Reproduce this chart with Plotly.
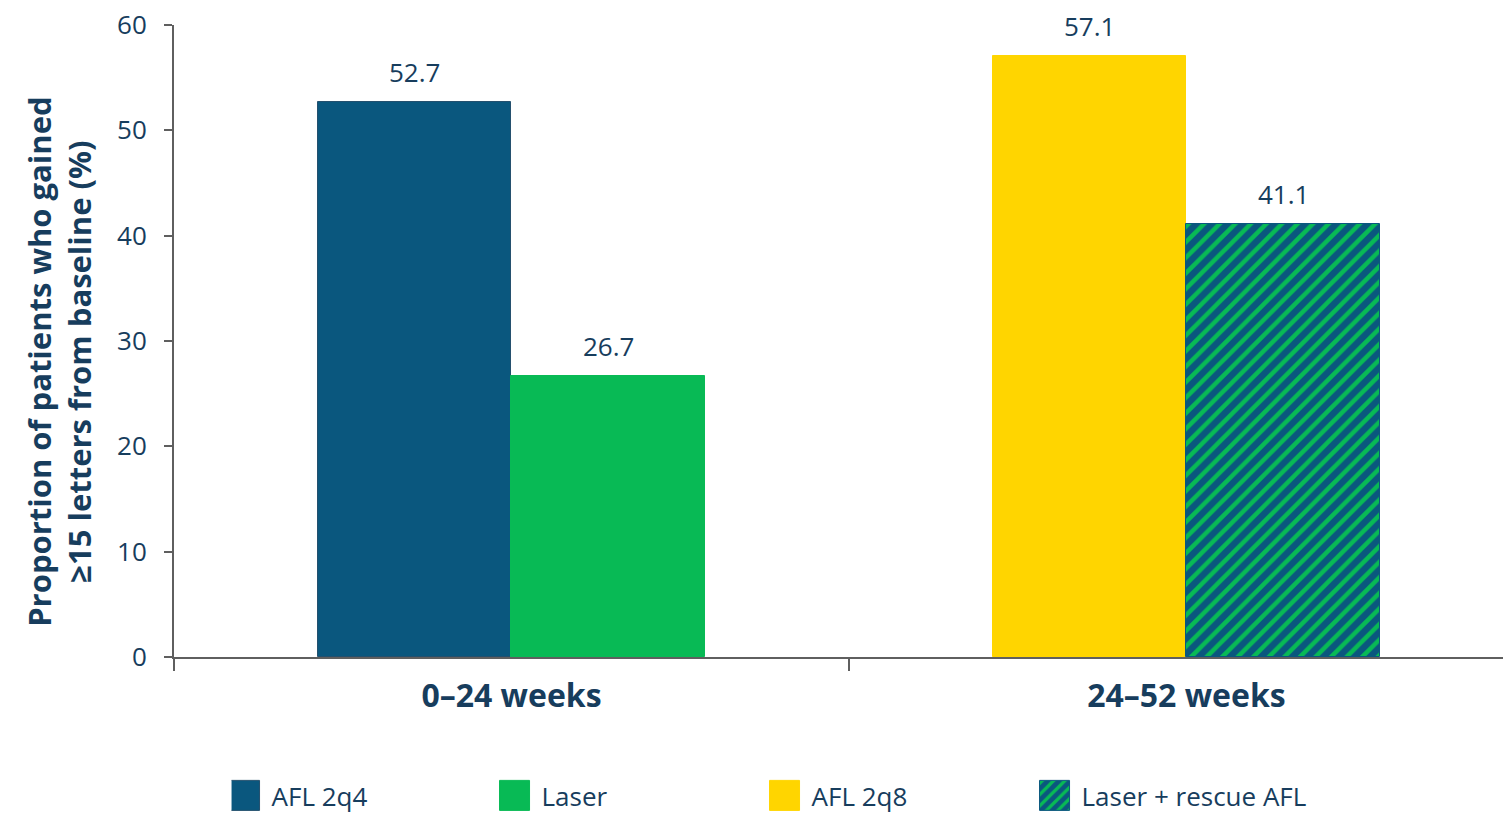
import plotly.graph_objects as go

# Periods on the x axis and treatment arms
periods = ["0–24 weeks", "24–52 weeks"]
arms = ["AFL 2q4", "Laser", "AFL 2q8", "Laser + rescue AFL"]
arm_period = ["0–24 weeks", "0–24 weeks", "24–52 weeks", "24–52 weeks"]
values = [52.7, 26.7, 57.1, 41.1]

y_ticks = [0, 10, 20, 30, 40, 50, 60]

NAVY = "#0A577E"
GREEN = "#08BA55"
YELLOW = "#FFD500"
TEXT = "#173D5D"
AXIS = "#5F5F5F"
FONT = "Open Sans"

bar_w = 0.287
offsets = [-bar_w, 0, -bar_w, 0]
fills = [NAVY, GREEN, YELLOW, NAVY]
outlines = ["#24506E", GREEN, YELLOW, NAVY]

fig = go.Figure()
for i, name in enumerate(arms):
    marker = dict(color=fills[i], line=dict(color=outlines[i], width=1))
    if name == "Laser + rescue AFL":
        marker["pattern"] = dict(shape="/", bgcolor=NAVY, fgcolor=GREEN,
                                 size=11, solidity=0.4, fillmode="replace")
    fig.add_trace(go.Bar(
        name=name,
        x=[arm_period[i]],
        y=[values[i]],
        width=bar_w,
        offset=offsets[i],
        marker=marker,
        hoverinfo="name+y",
    ))
    # value label centred over the bar
    fig.add_annotation(
        x=periods.index(arm_period[i]) + offsets[i] + bar_w / 2,
        y=values[i],
        text=f"{values[i]:.1f}",
        showarrow=False,
        yanchor="bottom",
        yshift=10,
        font=dict(size=26, color=TEXT, family=FONT),
    )

# Y axis title
fig.add_annotation(
    x=0, xref="paper", xanchor="right", xshift=-72,
    y=0.467, yref="paper", yanchor="middle",
    text="Proportion of patients who gained<br>≥15 letters from baseline (%)",
    textangle=-90,
    showarrow=False,
    font=dict(size=31, color=TEXT, family=FONT, weight="bold"),
)

fig.update_layout(
    width=1503,
    height=819,
    margin=dict(l=174, r=0, t=25, b=162, autoexpand=False),
    plot_bgcolor="white",
    paper_bgcolor="white",
    font=dict(family=FONT, color=TEXT),
    showlegend=True,
    legend=dict(
        orientation="h",
        x=0.0433, xanchor="left",
        y=-0.2563, yanchor="bottom",
        font=dict(size=26, color=TEXT, family=FONT),
        entrywidth=225, entrywidthmode="pixels",
        traceorder="normal",
        bgcolor="rgba(0,0,0,0)",
        borderwidth=0,
    ),
    bargap=0,
)

fig.update_xaxes(
    type="category",
    categoryorder="array",
    categoryarray=periods,
    range=[-0.5, 1.469],
    tickson="boundaries",
    ticks="outside",
    ticklen=12,
    tickwidth=2,
    tickcolor=AXIS,
    showline=True,
    linecolor=AXIS,
    linewidth=2,
    showgrid=False,
    automargin=False,
    ticklabelstandoff=10,
    tickfont=dict(size=32, color=TEXT, family=FONT, weight="bold"),
)

fig.update_yaxes(
    range=[0, 60],
    tickvals=y_ticks,
    ticks="outside",
    ticklen=8,
    tickwidth=2,
    tickcolor=AXIS,
    showline=True,
    linecolor=AXIS,
    linewidth=2,
    showgrid=False,
    zeroline=False,
    automargin=False,
    ticklabelstandoff=12,
    tickfont=dict(size=26, color=TEXT, family=FONT),
)

# Larger square legend swatches, 12px clear of the label
post = """
var gd = document.getElementsByClassName('plotly-graph-div')[0];
function grow(){
  gd.querySelectorAll('.legend .legendpoints path').forEach(function(p){
    p.setAttribute('d','M-22,-15H8V15H-22Z');
  });
}
grow();
gd.on('plotly_afterplot', grow);
"""

fig.write_html("out.html", post_script=post)
